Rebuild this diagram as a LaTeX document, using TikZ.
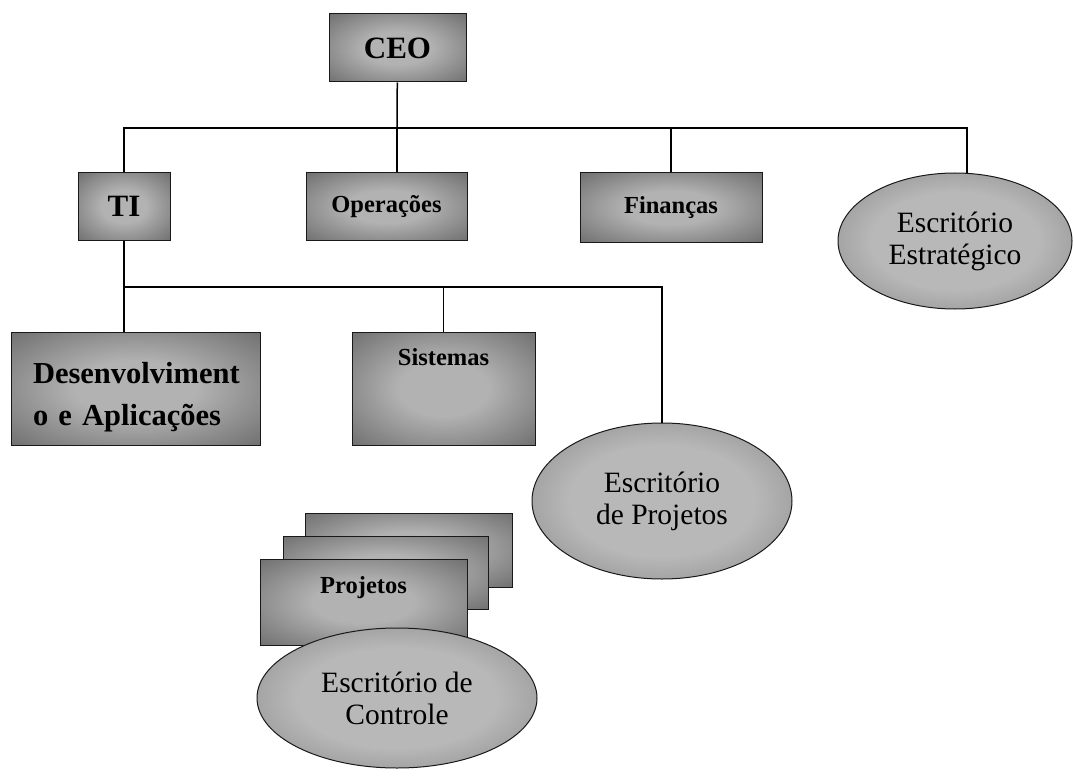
\documentclass[tikz,border=0pt]{standalone}
\usepackage{fontspec}
\setmainfont{Liberation Serif}
\usetikzlibrary{shapes.geometric}
\definecolor{boxmid}{gray}{0.70}
\definecolor{boxedge}{gray}{0.28}
\definecolor{ellmid}{gray}{0.72}
\definecolor{elledge}{gray}{0.38}
\pgfdeclareradialshading{boxshade}{\pgfpoint{0bp}{0bp}}{color(0bp)=(boxmid); color(12bp)=(boxmid); color(50bp)=(boxedge); color(72bp)=(boxedge)}
\pgfdeclareradialshading{ellshade}{\pgfpoint{0bp}{0bp}}{color(0bp)=(ellmid); color(18bp)=(ellmid); color(50bp)=(elledge); color(72bp)=(elledge)}
\begin{document}
\begin{tikzpicture}[x=1pt,y=-1pt,
	unit/.style={draw=black!90,line width=1pt,shading=boxshade,inner sep=0pt,
		font=\bfseries\fontsize{31}{36}\selectfont},
	small/.style={font=\bfseries\fontsize{24.5}{28}\selectfont},
	office/.style={ellipse,draw=black!90,line width=1pt,shading=ellshade,inner sep=0pt,
		align=center,font=\fontsize{29.5}{32}\selectfont},
	link/.style={line width=1.5pt}]
	\useasboundingbox (0,0) rectangle (1074,781);
	% top level
	\node[unit,minimum width=137pt,minimum height=68pt] (ceo) at (397.5,48) {CEO};
	\node[unit,minimum width=92pt,minimum height=67pt] (ti) at (124,206.5) {TI};
	\node[unit,small,minimum width=161pt,minimum height=67pt] (ops) at (386.5,206.5) {Operações};
	\node[unit,small,minimum width=182pt,minimum height=69pt] (fin) at (671,207.5) {Finanças};
	\node[office,minimum width=234pt,minimum height=136pt] (estrat) at (955,241) {Escritório\\Estratégico};
	\coordinate (j1) at (397,128);
	\draw[link] (ceo) -- (j1);
	\draw[link] (ti.north) |- (j1) -| (estrat.80);
	\draw[link] (j1) -- (j1 |- ops.north);
	\draw[link] (fin.north) -- (fin.north |- j1);
	% TI
	\node[unit,minimum width=249pt,minimum height=113pt,inner xsep=22pt,text width=205pt,align=left,
		text height=51pt,text depth=62pt,font=\bfseries\fontsize{30.5}{42}\selectfont] (dev) at (135.5,388.5)
		{Desenvolviment\\o e Aplicações};
	\node[unit,small,minimum width=183pt,minimum height=113pt,text height=33pt,text depth=80pt] (sis) at (443.5,388.5) {Sistemas};
	\node[office,minimum width=260pt,minimum height=156pt] (projof) at (662,501) {Escritório\\de Projetos};
	\coordinate (j2) at (124,287);
	\draw[link] (ti.south) -- (ti.south |- dev.north);
	\draw[link] (j2) -| (projof.north);
	\draw[link] (sis.north) -- (sis.north |- j2);
	% projetos
	\node[unit,minimum width=207pt,minimum height=74pt] (pj1) at (408.5,550) {};
	\node[unit,minimum width=205pt,minimum height=73pt] (pj2) at (385.5,572.5) {};
	\node[unit,small,minimum width=207pt,minimum height=86pt,text height=34pt,text depth=52pt] (pj) at (363.5,602) {Projetos};
	\node[office,minimum width=280pt,minimum height=140pt] (ctrl) at (397,698) {Escritório de\\Controle};
\end{tikzpicture}
\end{document}
